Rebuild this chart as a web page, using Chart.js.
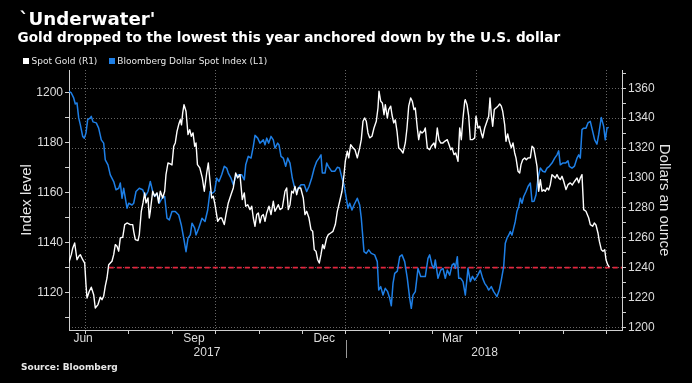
<!DOCTYPE html>
<html>
<head>
<meta charset="utf-8">
<script src="https://cdn.jsdelivr.net/npm/chart.js@4/dist/chart.umd.min.js"></script>
<style>
  html, body { margin: 0; padding: 0; background: #000; }
  #wrap { position: relative; width: 692px; height: 383px; background: #000; overflow: hidden; }
  #c { position: absolute; left: 0; top: 0; }
  .t { position: absolute; color: #fff; white-space: nowrap; font-family: "DejaVu Sans", sans-serif; }
  #title { left: 19.5px; top: 9.8px; font-size: 18.2px; line-height: 18px; font-weight: bold; }
  #subtitle { left: 17.5px; top: 31.2px; font-size: 13.6px; line-height: 13.6px; font-weight: bold; }
  .leg { top: 55.5px; font-size: 9px; line-height: 11px; color: #e8e8e8; }
  .sq { position: absolute; top: 57.5px; width: 6px; height: 6px; }
  #source { left: 21px; top: 362.7px; font-size: 9px; line-height: 9px; font-weight: bold; color: #e8e8e8; }
</style>
</head>
<body>
<div id="wrap">
  <canvas id="c" width="692" height="383"></canvas>
  <div class="t" id="title">`Underwater'</div>
  <div class="t" id="subtitle">Gold dropped to the lowest this year anchored down by the U.S. dollar</div>
  <div class="sq" style="left:23px;background:#ffffff"></div>
  <div class="t leg" style="left:31.5px">Spot Gold (R1)</div>
  <div class="sq" style="left:109px;background:#1e7fe6"></div>
  <div class="t leg" style="left:117.3px">Bloomberg Dollar Spot Index (L1)</div>
  <div class="t" id="source">Source: Bloomberg</div>
</div>
<script>
// ---- Data (time in months since 1 Jun 2017) ----
// Bloomberg Dollar Spot Index (left axis)
const dollarSeries = [[0.618,1200.7],[0.678,1200.0],[0.733,1198.0],[0.770,1195.6],[0.809,1196.0],[0.848,1190.0],[0.885,1187.3],[0.940,1182.6],[0.977,1181.9],[1.016,1183.9],[1.055,1189.3],[1.115,1190.0],[1.138,1190.6],[1.177,1188.4],[1.253,1188.0],[1.308,1185.9],[1.368,1181.2],[1.423,1179.9],[1.460,1173.2],[1.522,1171.2],[1.575,1167.2],[1.654,1164.5],[1.707,1161.2],[1.769,1161.8],[1.806,1163.9],[1.845,1157.8],[1.884,1161.8],[1.960,1153.8],[1.999,1155.8],[2.075,1155.1],[2.114,1155.8],[2.167,1160.5],[2.243,1161.8],[2.321,1161.2],[2.381,1158.5],[2.443,1160.5],[2.496,1164.5],[2.551,1160.5],[2.597,1158.5],[2.650,1159.8],[2.703,1155.8],[2.765,1157.8],[2.827,1158.5],[2.880,1149.8],[2.933,1149.1],[2.995,1152.5],[3.071,1152.5],[3.150,1151.1],[3.209,1147.1],[3.265,1141.8],[3.318,1136.4],[3.364,1141.8],[3.417,1143.1],[3.456,1147.8],[3.518,1145.8],[3.548,1143.1],[3.610,1145.8],[3.686,1149.8],[3.755,1148.5],[3.817,1153.1],[3.870,1160.5],[3.923,1159.8],[3.974,1160.5],[4.024,1165.9],[4.077,1164.5],[4.139,1167.2],[4.199,1170.6],[4.254,1169.9],[4.291,1167.9],[4.353,1165.9],[4.406,1163.2],[4.461,1166.5],[4.521,1167.2],[4.600,1167.2],[4.659,1165.2],[4.692,1171.2],[4.751,1174.6],[4.814,1173.9],[4.867,1178.6],[4.906,1183.0],[4.968,1181.9],[5.021,1179.9],[5.097,1181.2],[5.136,1179.2],[5.175,1181.9],[5.221,1179.9],[5.274,1182.6],[5.327,1181.2],[5.366,1177.9],[5.428,1179.9],[5.458,1179.2],[5.504,1174.6],[5.557,1173.9],[5.612,1170.6],[5.658,1173.9],[5.711,1171.9],[5.764,1165.9],[5.810,1162.5],[5.865,1160.5],[5.902,1161.8],[5.964,1163.2],[6.040,1163.2],[6.095,1160.5],[6.148,1162.5],[6.211,1165.9],[6.270,1169.9],[6.326,1172.6],[6.379,1173.9],[6.425,1175.2],[6.455,1167.9],[6.517,1167.9],[6.556,1171.9],[6.593,1170.6],[6.671,1168.6],[6.740,1168.6],[6.800,1170.2],[6.850,1169.9],[6.908,1165.9],[6.954,1163.2],[7.007,1157.8],[7.046,1153.8],[7.085,1155.8],[7.138,1153.1],[7.184,1155.1],[7.260,1157.8],[7.315,1155.1],[7.352,1149.8],[7.414,1136.4],[7.467,1135.7],[7.522,1137.1],[7.582,1135.7],[7.660,1135.1],[7.720,1132.4],[7.753,1121.0],[7.799,1122.4],[7.852,1119.0],[7.904,1121.7],[7.955,1120.5],[8.006,1117.7],[8.043,1114.7],[8.082,1123.7],[8.121,1127.7],[8.181,1128.6],[8.236,1134.4],[8.289,1135.1],[8.351,1132.4],[8.411,1125.7],[8.466,1117.7],[8.503,1113.7],[8.542,1119.0],[8.595,1120.4],[8.657,1129.7],[8.719,1126.4],[8.772,1126.4],[8.825,1126.4],[8.887,1133.7],[8.926,1135.1],[8.979,1131.0],[9.025,1129.7],[9.055,1133.1],[9.117,1125.7],[9.179,1129.0],[9.232,1129.7],[9.285,1125.7],[9.331,1129.0],[9.387,1127.0],[9.440,1131.0],[9.486,1131.7],[9.516,1129.7],[9.562,1134.4],[9.594,1125.7],[9.640,1125.7],[9.693,1124.4],[9.746,1119.0],[9.808,1129.7],[9.861,1124.4],[9.911,1126.5],[9.962,1125.0],[10.015,1126.4],[10.091,1129.0],[10.146,1125.7],[10.192,1123.7],[10.245,1122.4],[10.284,1121.0],[10.344,1122.4],[10.399,1120.4],[10.475,1118.4],[10.528,1121.0],[10.574,1125.0],[10.629,1130.4],[10.666,1139.8],[10.705,1141.8],[10.744,1143.0],[10.781,1144.5],[10.820,1143.0],[10.859,1145.8],[10.896,1148.5],[10.935,1152.5],[10.975,1154.5],[11.012,1157.8],[11.051,1155.8],[11.090,1158.5],[11.143,1160.5],[11.189,1162.5],[11.242,1163.9],[11.281,1156.5],[11.327,1156.6],[11.373,1159.2],[11.419,1165.9],[11.472,1169.9],[11.527,1168.6],[11.580,1168.3],[11.626,1169.9],[11.679,1170.6],[11.741,1171.9],[11.803,1173.9],[11.856,1175.2],[11.895,1176.8],[11.932,1171.2],[11.987,1171.9],[12.052,1171.9],[12.109,1172.8],[12.139,1170.6],[12.202,1169.9],[12.259,1170.7],[12.317,1173.9],[12.356,1175.2],[12.392,1173.9],[12.431,1185.3],[12.470,1185.9],[12.523,1185.9],[12.569,1188.0],[12.622,1188.6],[12.677,1184.6],[12.723,1181.2],[12.776,1179.5],[12.815,1183.3],[12.875,1190.2],[12.930,1186.6],[12.967,1181.2],[13.006,1185.9],[13.046,1186.2]];

// Spot Gold, USD/oz (right axis)
const goldSeries = [[0.618,1243.1],[0.678,1248.7],[0.712,1253.2],[0.756,1256.5],[0.809,1245.3],[0.855,1247.8],[0.885,1248.7],[0.940,1245.3],[0.986,1243.1],[1.016,1228.6],[1.040,1219.7],[1.092,1224.2],[1.138,1226.9],[1.193,1221.9],[1.230,1213.0],[1.292,1215.3],[1.345,1220.2],[1.384,1218.6],[1.423,1220.9],[1.460,1227.6],[1.500,1233.1],[1.539,1242.0],[1.575,1243.1],[1.614,1244.3],[1.654,1248.7],[1.690,1255.4],[1.730,1254.3],[1.769,1251.0],[1.806,1259.9],[1.861,1260.3],[1.907,1268.8],[1.960,1269.9],[2.036,1268.8],[2.091,1268.8],[2.114,1264.3],[2.151,1258.7],[2.213,1258.1],[2.243,1262.1],[2.289,1277.7],[2.328,1283.3],[2.367,1290.0],[2.397,1283.3],[2.443,1286.6],[2.473,1273.2],[2.496,1277.7],[2.551,1291.1],[2.597,1287.8],[2.650,1290.0],[2.689,1283.3],[2.726,1291.1],[2.781,1286.6],[2.827,1291.1],[2.857,1302.2],[2.903,1310.0],[2.956,1309.4],[2.995,1308.7],[3.035,1321.2],[3.071,1323.4],[3.111,1331.2],[3.150,1335.7],[3.187,1339.0],[3.214,1335.5],[3.242,1343.5],[3.272,1349.0],[3.318,1344.6],[3.364,1329.0],[3.403,1332.3],[3.440,1327.9],[3.479,1330.1],[3.518,1321.2],[3.548,1323.4],[3.581,1308.9],[3.635,1306.7],[3.693,1300.0],[3.739,1291.1],[3.794,1303.3],[3.831,1310.0],[3.870,1297.8],[3.909,1286.6],[3.946,1287.8],[3.985,1282.1],[4.047,1271.0],[4.100,1273.2],[4.139,1273.2],[4.199,1268.8],[4.238,1275.5],[4.291,1283.3],[4.353,1288.8],[4.406,1293.3],[4.461,1303.3],[4.507,1300.0],[4.560,1302.2],[4.613,1285.5],[4.659,1290.0],[4.692,1281.1],[4.738,1282.1],[4.791,1278.8],[4.830,1281.1],[4.867,1273.2],[4.906,1267.7],[4.945,1275.5],[4.982,1276.6],[5.021,1269.9],[5.060,1274.6],[5.097,1275.5],[5.136,1271.0],[5.175,1276.6],[5.228,1281.1],[5.274,1275.5],[5.327,1284.4],[5.366,1277.7],[5.405,1279.9],[5.442,1282.1],[5.481,1278.8],[5.534,1279.9],[5.596,1291.1],[5.635,1293.3],[5.672,1278.8],[5.711,1282.1],[5.750,1291.1],[5.787,1290.0],[5.826,1294.4],[5.865,1288.8],[5.902,1293.3],[5.957,1293.3],[6.017,1286.6],[6.056,1275.5],[6.095,1277.7],[6.148,1273.2],[6.194,1265.4],[6.233,1264.3],[6.270,1252.0],[6.309,1251.0],[6.348,1245.3],[6.385,1243.1],[6.424,1248.7],[6.463,1255.4],[6.500,1252.7],[6.556,1260.0],[6.593,1262.1],[6.648,1263.2],[6.701,1264.3],[6.754,1268.8],[6.800,1277.7],[6.855,1284.4],[6.908,1291.1],[6.954,1302.2],[6.984,1311.2],[7.030,1317.9],[7.062,1313.4],[7.108,1322.3],[7.161,1320.1],[7.207,1318.9],[7.260,1313.4],[7.315,1320.1],[7.352,1325.6],[7.391,1337.9],[7.430,1340.1],[7.467,1337.9],[7.506,1330.1],[7.545,1326.8],[7.598,1327.9],[7.644,1333.4],[7.697,1337.9],[7.736,1346.8],[7.759,1358.0],[7.799,1351.3],[7.836,1350.2],[7.875,1342.3],[7.905,1349.0],[7.951,1340.1],[7.983,1345.7],[8.029,1348.0],[8.059,1342.1],[8.098,1336.8],[8.135,1338.8],[8.174,1331.2],[8.213,1320.1],[8.259,1318.9],[8.312,1316.7],[8.365,1323.4],[8.404,1333.4],[8.443,1348.0],[8.489,1353.5],[8.526,1351.3],[8.565,1345.7],[8.595,1346.8],[8.641,1333.4],[8.673,1325.6],[8.710,1331.2],[8.749,1330.1],[8.795,1331.2],[8.825,1333.4],[8.871,1320.1],[8.926,1318.9],[8.963,1321.2],[9.025,1323.4],[9.055,1320.1],[9.101,1333.4],[9.140,1325.6],[9.179,1323.4],[9.232,1323.4],[9.271,1324.5],[9.331,1325.6],[9.371,1322.3],[9.410,1318.9],[9.440,1320.1],[9.486,1315.6],[9.525,1316.7],[9.578,1311.2],[9.617,1333.4],[9.654,1325.6],[9.693,1340.1],[9.732,1351.3],[9.746,1352.4],[9.785,1349.0],[9.824,1341.3],[9.861,1325.6],[9.911,1325.6],[9.962,1326.8],[9.992,1341.3],[10.038,1333.4],[10.077,1334.6],[10.114,1330.1],[10.146,1326.8],[10.192,1333.4],[10.245,1337.9],[10.284,1341.3],[10.314,1353.5],[10.344,1342.3],[10.376,1334.6],[10.413,1345.7],[10.452,1346.8],[10.498,1348.0],[10.537,1349.5],[10.574,1348.0],[10.606,1344.6],[10.652,1335.7],[10.682,1324.5],[10.721,1329.4],[10.758,1324.5],[10.804,1320.1],[10.843,1323.4],[10.882,1316.7],[10.912,1313.4],[10.959,1304.5],[10.998,1303.3],[11.028,1308.9],[11.067,1312.2],[11.113,1313.4],[11.150,1312.2],[11.189,1313.4],[11.242,1313.4],[11.281,1321.2],[11.320,1320.1],[11.357,1314.5],[11.396,1307.8],[11.435,1291.1],[11.472,1298.9],[11.511,1291.1],[11.550,1292.0],[11.587,1291.1],[11.626,1293.3],[11.665,1292.0],[11.702,1295.5],[11.741,1302.2],[11.780,1301.1],[11.817,1300.0],[11.856,1302.2],[11.895,1300.0],[11.932,1298.9],[11.971,1301.1],[12.010,1297.8],[12.063,1292.2],[12.109,1295.5],[12.162,1296.7],[12.208,1295.3],[12.263,1297.8],[12.317,1300.0],[12.356,1296.7],[12.392,1300.0],[12.431,1302.2],[12.470,1278.8],[12.523,1277.7],[12.586,1273.2],[12.622,1268.8],[12.677,1267.7],[12.714,1269.9],[12.753,1268.5],[12.799,1263.2],[12.830,1257.7],[12.876,1252.0],[12.915,1251.0],[12.954,1252.0],[12.984,1245.3],[13.023,1242.0],[13.060,1240.3]];

// Reference level (gold 1240) from mid-July 2017 to the end of the axis
const refLevel = 1240;
const refFrom = 1.54;

// Time axis (months since 1 Jun 2017)
const xMin = 0.625, xMax = 13.352;
const monthTicks = [1,2,3,4,5,6,7,8,9,10,11,12,13];
const quarterTicks = [1,4,7,10,13];
const monthLabels = ['Jun','Sep','Dec','Mar'];
const monthLabelAt = [0.95,3.5,6.5,9.45];
const yearLabels = ['2017','2018'];
const yearLabelAt = [3.8,10.19];
const yearBreakAt = 7;

// Value axes
const dollarMin = 1105, dollarMax = 1209.2;
const dollarTicks = [1110,1120,1130,1140,1150,1160,1170,1180,1190,1200];
const dollarTickLabels = [1120,1140,1160,1180,1200];
const goldMin = 1198.3, goldMax = 1372.2;
const goldTicks = [1200,1210,1220,1230,1240,1250,1260,1270,1280,1290,1300,1310,1320,1330,1340,1350,1360,1370];
const goldTickLabels = [1200,1220,1240,1260,1280,1300,1320,1340,1360];
const goldGridLevels = [1200,1220,1240,1260,1280,1320,1340,1360];

const AXIS_FONT = '"Liberation Sans", Arial, sans-serif';
const GRID = '#666666';
const AXIS = '#d0d0d0';
const CLEAR = 'rgba(0,0,0,0)';

const axisLabelPlugin = {
  id: 'axisLabels',
  afterDraw(chart) {
    const ctx = chart.ctx, x = chart.scales.x;
    ctx.save();
    ctx.fillStyle = '#dcdcdc';
    ctx.font = '12px ' + AXIS_FONT;
    ctx.textAlign = 'center';
    ctx.textBaseline = 'middle';
    monthLabels.forEach((t, i) => ctx.fillText(t, x.getPixelForValue(monthLabelAt[i]), 339));
    yearLabels.forEach((t, i) => ctx.fillText(t, x.getPixelForValue(yearLabelAt[i]), 353));
    const bx = Math.round(x.getPixelForValue(yearBreakAt)) + 0.5;
    ctx.strokeStyle = '#9a9a9a';
    ctx.lineWidth = 1;
    ctx.beginPath(); ctx.moveTo(bx, 340); ctx.lineTo(bx, 358); ctx.stroke();
    ctx.restore();
  }
};

new Chart(document.getElementById('c'), {
  type: 'line',
  data: {
    datasets: [
      { label: 'Spot Gold (R1)', yAxisID: 'y2', data: goldSeries.map(p => ({x: p[0], y: p[1]})),
        borderColor: '#ffffff', borderWidth: 1.4, pointRadius: 0, fill: false },
      { label: 'Bloomberg Dollar Spot Index (L1)', yAxisID: 'y', data: dollarSeries.map(p => ({x: p[0], y: p[1]})),
        borderColor: '#1e7fe6', borderWidth: 1.5, pointRadius: 0, fill: false },
      { label: 'ref', yAxisID: 'y2', data: [{x: refFrom, y: refLevel}, {x: xMax, y: refLevel}],
        borderColor: '#e3263e', borderWidth: 1.7, borderDash: [5, 3], pointRadius: 0, fill: false }
    ]
  },
  options: {
    responsive: false,
    animation: false,
    layout: { padding: { top: 70, left: 0, right: 0, bottom: 0 } },
    plugins: { legend: { display: false }, tooltip: { enabled: false } },
    elements: { line: { tension: 0, borderJoinStyle: 'round' } },
    scales: {
      x: {
        type: 'linear', min: xMin, max: xMax,
        afterBuildTicks: s => { s.ticks = monthTicks.map(v => ({ value: v })); },
        afterFit: s => { s.height = 53; },
        ticks: { display: false },
        grid: {
          display: true, drawOnChartArea: true, drawTicks: true, tickLength: 4,
          color: c => (c.tick && quarterTicks.includes(c.tick.value)) ? GRID : CLEAR,
          tickColor: AXIS, tickBorderDash: [], lineWidth: 1
        },
        border: { display: true, color: AXIS, width: 1, dash: [1, 2] }
      },
      y: {
        position: 'left', min: dollarMin, max: dollarMax,
        afterBuildTicks: s => { s.ticks = dollarTicks.map(v => ({ value: v })); },
        afterFit: s => { s.width = 69; },
        ticks: {
          color: '#dcdcdc', font: { family: AXIS_FONT, size: 12 }, padding: 2, autoSkip: false,
          callback: v => dollarTickLabels.includes(v) ? String(v) : ''
        },
        grid: { display: true, drawOnChartArea: false, drawTicks: true, tickLength: 4, tickColor: AXIS, tickBorderDash: [] },
        border: { display: true, color: AXIS, width: 1 },
        title: { display: true, text: 'Index level', color: '#e6e6e6',
                 font: { family: AXIS_FONT, size: 15 }, padding: { top: 17.7, bottom: 0 } }
      },
      y2: {
        position: 'right', min: goldMin, max: goldMax,
        afterBuildTicks: s => { s.ticks = goldTicks.map(v => ({ value: v })); },
        afterFit: s => { s.width = 70; },
        ticks: {
          color: '#dcdcdc', font: { family: AXIS_FONT, size: 12 }, padding: 2, autoSkip: false,
          callback: v => goldTickLabels.includes(v) ? String(v) : ''
        },
        grid: {
          display: true, drawOnChartArea: true, drawTicks: true, tickLength: 4,
          color: c => (c.tick && goldGridLevels.includes(c.tick.value)) ? GRID : CLEAR,
          tickColor: AXIS, tickBorderDash: [], lineWidth: 1
        },
        border: { display: true, color: AXIS, width: 1, dash: [1, 2] },
        title: { display: true, text: 'Dollars an ounce', color: '#e6e6e6',
                 font: { family: AXIS_FONT, size: 15 }, padding: { top: 19, bottom: 0 } }
      }
    }
  },
  plugins: [axisLabelPlugin]
});
</script>
</body>
</html>
